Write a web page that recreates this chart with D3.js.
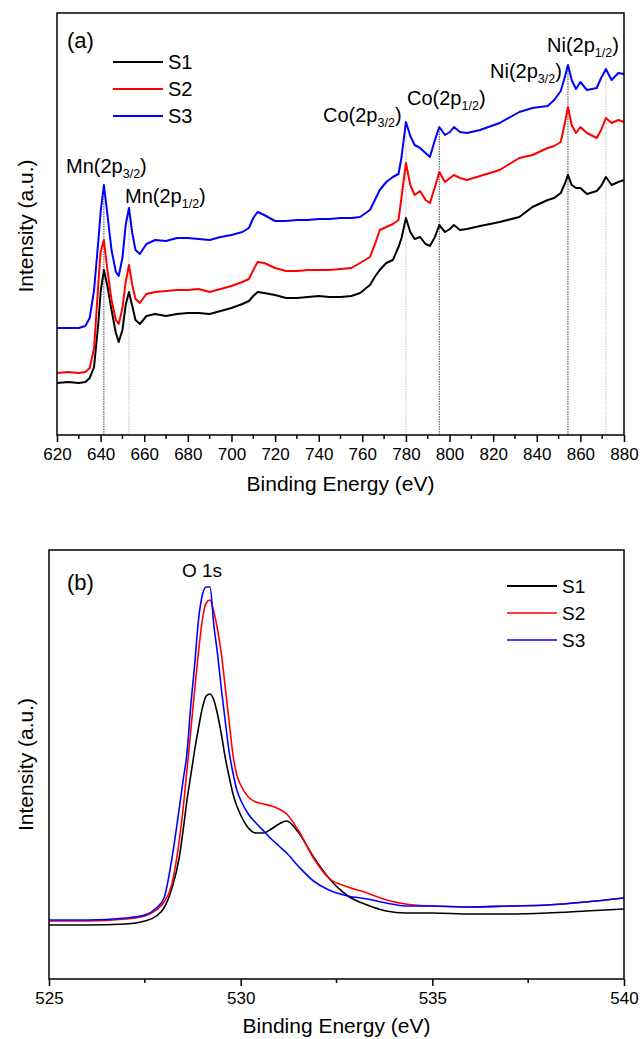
<!DOCTYPE html>
<html><head><meta charset="utf-8">
<script src="https://cdn.jsdelivr.net/npm/d3@7"></script>
<style>body{margin:0;background:#fff}svg{display:block;font-family:Arial,"Liberation Sans",sans-serif}</style>
</head><body>
<svg id="c" width="641" height="1039"></svg>
<script>
// ---------- Panel (a) data ----------
const topEnergy = [620,625,630,633,635,637,639,640,641.5,643,645,647,648.3,650,651.5,653,654.5,656,658,661,
  665,670,675,680,685,690,695,700,705,708,710,712,715,720,725,730,735,740,745,750,755,
  759,763.5,766,768,771,774,776.6,778,780,782,784,786.5,789,791,793.3,795.3,797.9,800.2,802,804.8,
  808,814,823,832,838,845,848,851,853,854.3,856,858,860,863,867.5,869.5,871.7,874.3,877.4,880];
const topS1 = [52,53,52,53,57,68,113,143,165,150,125,102,93,105,130,143,129,115,111,119,
  121,119,121,122,122,121,124,127,131,134,139,143,142,140,137,137,138,139,138,138,139,
  142,150,159,165,172,175,188,197,217,203,196,198,191,189,198,210,203,206,210,205,
  206,209,213,218,228,235,237,242,252,260,250,247,247,241,244,249,258,250,253,255];
const topS2 = [62,63,62,63,67,87,153,183,195,167,135,115,111,127,153,170,150,136,132,141,
  143,144,145,145,146,143,146,149,153,156,165,173,172,167,164,164,165,165,165,166,167,
  172,178,192,205,208,211,215,238,272,250,240,244,235,232,248,263,253,257,260,257,
  255,259,265,277,280,287,289,293,313,328,310,302,308,302,297,305,317,312,315,313];
const topS3 = [107,107,107,109,117,145,195,223,250,223,185,163,159,177,210,227,202,185,181,191,
  195,194,197,197,196,195,198,200,203,207,217,223,220,214,214,215,215,216,216,217,217,
  218,225,236,245,253,258,261,278,313,299,290,287,282,278,295,308,300,303,308,303,
  302,305,312,323,327,329,335,344,359,370,355,346,353,345,347,357,366,355,362,361];
const topTicks = [620,640,660,680,700,720,740,760,780,800,820,840,860,880];
const peakLines = [641.5,653,780,795.3,854.3,871.7];
const peakLineDark = [true,false,false,true,true,false];
const topLabels = [
  {main:"Mn(2p", sub:"3/2"},
  {main:"Mn(2p", sub:"1/2"},
  {main:"Co(2p", sub:"3/2"},
  {main:"Co(2p", sub:"1/2"},
  {main:"Ni(2p", sub:"3/2"},
  {main:"Ni(2p", sub:"1/2"}
];
// ---------- Panel (b) data ----------
const botEnergy = [525,526,527,527.5,527.8,528,528.2,528.4,528.5,528.6,528.7,528.8,528.9,529,529.1,529.2,529.3,529.4,529.5,529.6,529.7,529.8,529.9,530,530.2,530.4,530.6,530.8,531,531.2,531.5,531.9,532.3,532.8,533.3,533.8,534.3,535,536,537,538,539,540];
const botS1 = [54,54,55,58,63,71,90,122,149,179,204,229,251,271,283,285,279,264,244,221,202,185,173,164,151,146,146,150,155,158,147,122,101,83,74,68,66,66,65,65,66,68,70];
const botS2 = [58,58,60,63,69,77,94,139,171,209,249,289,327,359,376,379,367,349,324,291,257,224,204,194,182,177,175,173,170,165,149,121,101,92,86,79,75,73,72,73,74,77,81];
const botS3 = [59,59,61,64,71,81,119,171,199,226,274,314,359,384,392,392,354,324,289,257,227,206,189,179,165,156,148,140,133,126,113,98,89,83,80,76,73,73,72,73,74,77,81];
const botMajor = [525,530,535,540];
const botMinor = [527.5,532.5,537.5];

const seriesNames = ["S1","S2","S3"];
const seriesColors = ["#000000","#ff0000","#0000ff"];

const svg = d3.select("#c");

function frame(g, x, y, w, h){
  g.append("rect").attr("x",x).attr("y",y).attr("width",w).attr("height",h)
    .attr("fill","none").attr("stroke","#000").attr("stroke-width",1.5);
}

// ---------- Panel (a) ----------
{
  const L=57,R=624,T=13,B=435;
  const x = d3.scaleLinear().domain([620,880]).range([L,R]);
  const y = d3.scaleLinear().domain([0,422]).range([B,T]);
  const g = svg.append("g");
  peakLines.forEach((e,i)=>{
    const idx = topEnergy.indexOf(e);
    g.append("line").attr("x1",x(e)).attr("x2",x(e)).attr("y1",B).attr("y2",y(topS3[idx]))
      .attr("stroke",peakLineDark[i]?"#444":"#bbb").attr("stroke-width",1).attr("stroke-dasharray","1.5,1");
  });
  const line = d3.line().x((d,i)=>x(topEnergy[i])).y(d=>y(d)).curve(d3.curveLinear);
  [topS1,topS2,topS3].forEach((s,k)=>{
    g.append("path").attr("d",line(s)).attr("fill","none").attr("stroke",seriesColors[k])
      .attr("stroke-width",2).attr("stroke-linejoin","round");
  });
  frame(g,L,T,R-L,B-T);
  const ax = d3.axisBottom(x).tickValues(topTicks).tickSize(7).tickPadding(6).tickFormat(d3.format("d"));
  const axg = g.append("g").attr("transform",`translate(0,${B})`).call(ax);
  axg.select(".domain").remove();
  axg.selectAll("line").attr("stroke-width",1.5);
  axg.selectAll("text").attr("font-size",17).attr("font-family","Arial, Liberation Sans, sans-serif").attr("fill","#000");
  const minor = d3.range(630,880,20);
  g.append("g").selectAll("line").data(minor).join("line")
    .attr("x1",d=>x(d)).attr("x2",d=>x(d)).attr("y1",B).attr("y2",B+4).attr("stroke","#000").attr("stroke-width",1.5);
  g.append("text").attr("x",(L+R)/2).attr("y",491).attr("text-anchor","middle").attr("font-size",21).text("Binding Energy (eV)");
  g.append("text").attr("transform",`translate(33,${(T+B)/2+2}) rotate(-90)`).attr("text-anchor","middle").attr("font-size",21).text("Intensity (a.u.)");
  g.append("text").attr("x",67).attr("y",48).attr("font-size",22).text("(a)");
  seriesNames.forEach((n,k)=>{
    const ly = 62 + k*27;
    g.append("line").attr("x1",113).attr("x2",163).attr("y1",ly).attr("y2",ly).attr("stroke",seriesColors[k]).attr("stroke-width",2);
    g.append("text").attr("x",168).attr("y",ly+7).attr("font-size",20).text(n);
  });
  const annPos = [[66,173],[125,203],[323,122],[407,105],[490,78],[547,52]];
  topLabels.forEach((a,i)=>{
    const t = g.append("text").attr("x",annPos[i][0]).attr("y",annPos[i][1]).attr("font-size",20);
    t.append("tspan").text(a.main);
    t.append("tspan").attr("font-size",12.5).attr("dy",5).text(a.sub);
    t.append("tspan").attr("dy",-5).text(")");
  });
}

// ---------- Panel (b) ----------
{
  const L=49,R=624,T=550,B=979;
  const x = d3.scaleLinear().domain([525,540]).range([L,R]);
  const y = d3.scaleLinear().domain([0,429]).range([B,T]);
  const g = svg.append("g");
  const line = d3.line().x((d,i)=>x(botEnergy[i])).y(d=>y(d)).curve(d3.curveMonotoneX);
  [botS1,botS2,botS3].forEach((s,k)=>{
    g.append("path").attr("d",line(s)).attr("fill","none").attr("stroke",seriesColors[k])
      .attr("stroke-width",1.6).attr("stroke-linejoin","round");
  });
  frame(g,L,T,R-L,B-T);
  const ax = d3.axisBottom(x).tickValues(botMajor).tickSize(7).tickPadding(6).tickFormat(d3.format("d"));
  const axg = g.append("g").attr("transform",`translate(0,${B})`).call(ax);
  axg.select(".domain").remove();
  axg.selectAll("line").attr("stroke-width",1.5);
  axg.selectAll("text").attr("font-size",17).attr("font-family","Arial, Liberation Sans, sans-serif").attr("fill","#000");
  g.append("g").selectAll("line").data(botMinor).join("line")
    .attr("x1",d=>x(d)).attr("x2",d=>x(d)).attr("y1",B).attr("y2",B+4).attr("stroke","#000").attr("stroke-width",1.5);
  g.append("text").attr("x",(L+R)/2).attr("y",1033).attr("text-anchor","middle").attr("font-size",21).text("Binding Energy (eV)");
  g.append("text").attr("transform",`translate(33,${(T+B)/2}) rotate(-90)`).attr("text-anchor","middle").attr("font-size",21).text("Intensity (a.u.)");
  g.append("text").attr("x",67).attr("y",590).attr("font-size",22).text("(b)");
  g.append("text").attr("x",182).attr("y",577).attr("font-size",19).text("O 1s");
  seriesNames.forEach((n,k)=>{
    const ly = 586 + k*27;
    g.append("line").attr("x1",507).attr("x2",557).attr("y1",ly).attr("y2",ly).attr("stroke",seriesColors[k]).attr("stroke-width",k===0?2.2:1.6);
    g.append("text").attr("x",562).attr("y",ly+7).attr("font-size",19).text(n);
  });
}
</script>
</body></html>
